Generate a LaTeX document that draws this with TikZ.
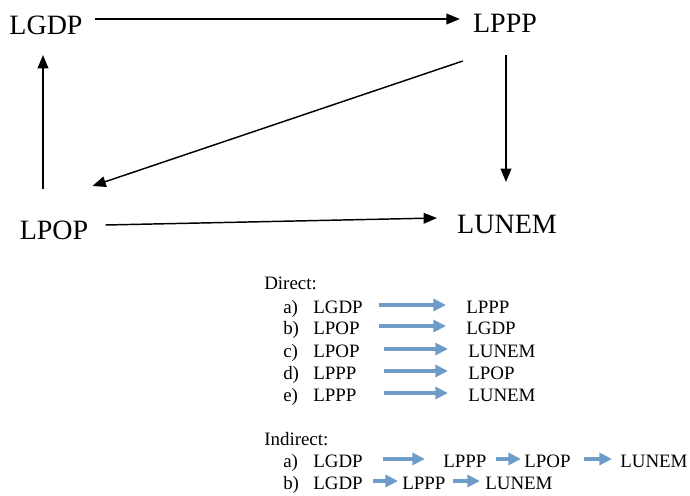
\documentclass[tikz,border=0pt]{standalone}
\usepackage{fontspec}
\setmainfont{Liberation Serif}
\usetikzlibrary{arrows.meta,calc}
\definecolor{barrow}{RGB}{110,155,200}
\begin{document}
\begin{tikzpicture}[x=0.75pt,y=-0.75pt,
  big/.style={inner sep=0pt, anchor=base, font=\fontsize{21}{25}\selectfont},
  sm/.style={inner sep=0pt, anchor=base west, font=\fontsize{14.2}{17}\selectfont},
  karr/.style={line width=1.1pt, -{Triangle[length=10pt,width=8pt]}},
  barr/.style={draw=barrow, line width=2.5pt, -{Triangle[length=9.5pt,width=9pt]}, color=barrow}]
\path[use as bounding box] (0,0) rectangle (690,496);

% main diagram
\node[big] (lgdp) at (46,34) {LGDP};
\node[big] (lppp) at (505,32) {LPPP};
\node[big] (lpop) at (54,239) {LPOP};
\node[big] (lunem) at (507,233) {LUNEM};

\draw[karr] ($(lgdp.base east)+(12.5,-15)$) -- ($(lppp.base west)+(-13,-13)$);
\draw[karr] ($(lpop.base)+(-11,-50)$) -- ($(lgdp.base)+(-3,21)$);
\draw[karr] ($(lppp.base west)+(-10,29)$) -- ($(lpop.base east)+(4,-53)$);
\draw[karr] ($(lppp.base)+(1,23)$) -- ($(lunem.base)+(-1,-51)$);
\draw[karr] ($(lpop.base east)+(17,-14)$) -- ($(lunem.base west)+(-20,-15)$);

% Direct list
\node[sm] (dir) at (264,289) {Direct:};
\node[sm] (la) at (283,313) {a)};
\node[sm] (da1) at (313,313) {LGDP};
\node[sm] (da2) at (466,313) {LPPP};
\node[sm] (lb) at (283,334) {b)};
\node[sm] (db1) at (313,334) {LPOP};
\node[sm] (db2) at (466,334) {LGDP};
\node[sm] (lc) at (283,357) {c)};
\node[sm] (dc1) at (313,357) {LPOP};
\node[sm] (dc2) at (468,357) {LUNEM};
\node[sm] (ld) at (283,379) {d)};
\node[sm] (dd1) at (313,379) {LPPP};
\node[sm] (dd2) at (468,379) {LPOP};
\node[sm] (le) at (283,401) {e)};
\node[sm] (de1) at (313,401) {LPPP};
\node[sm] (de2) at (468,401) {LUNEM};

\draw[barr] ($(da1.base east)+(16,-8)$) -- ($(da2.base west)+(-20,-8)$);
\draw[barr] ($(db1.base east)+(19,-8)$) -- ($(db2.base west)+(-20,-8)$);
\draw[barr] ($(dc1.base east)+(24,-8)$) -- ($(dc2.base west)+(-20,-8)$);
\draw[barr] ($(dd1.base east)+(27,-8)$) -- ($(dd2.base west)+(-20,-8)$);
\draw[barr] ($(de1.base east)+(27,-8)$) -- ($(de2.base west)+(-20,-8)$);

% Indirect list
\node[sm] (ind) at (264,445) {Indirect:};
\node[sm] (lia) at (283,467) {a)};
\node[sm] (ia1) at (313,467) {LGDP};
\node[sm] (ia2) at (443,467) {LPPP};
\node[sm] (ia3) at (524,467) {LPOP};
\node[sm] (ia4) at (620,467) {LUNEM};
\node[sm] (lib) at (283,489) {b)};
\node[sm] (ib1) at (313,489) {LGDP};
\node[sm] (ib2) at (402,489) {LPPP};
\node[sm] (ib3) at (485,489) {LUNEM};

\draw[barr] ($(ia1.base east)+(20,-8)$) -- ($(ia2.base west)+(-18,-8)$);
\draw[barr] ($(ia2.base east)+(9,-8)$) -- ($(ia3.base west)+(-3,-8)$);
\draw[barr] ($(ia3.base east)+(13,-8)$) -- ($(ia4.base west)+(-8,-8)$);
\draw[barr] ($(ib1.base east)+(10,-8)$) -- ($(ib2.base west)+(-4,-8)$);
\draw[barr] ($(ib2.base east)+(7,-8)$) -- ($(ib3.base west)+(-5,-8)$);
\end{tikzpicture}
\end{document}
